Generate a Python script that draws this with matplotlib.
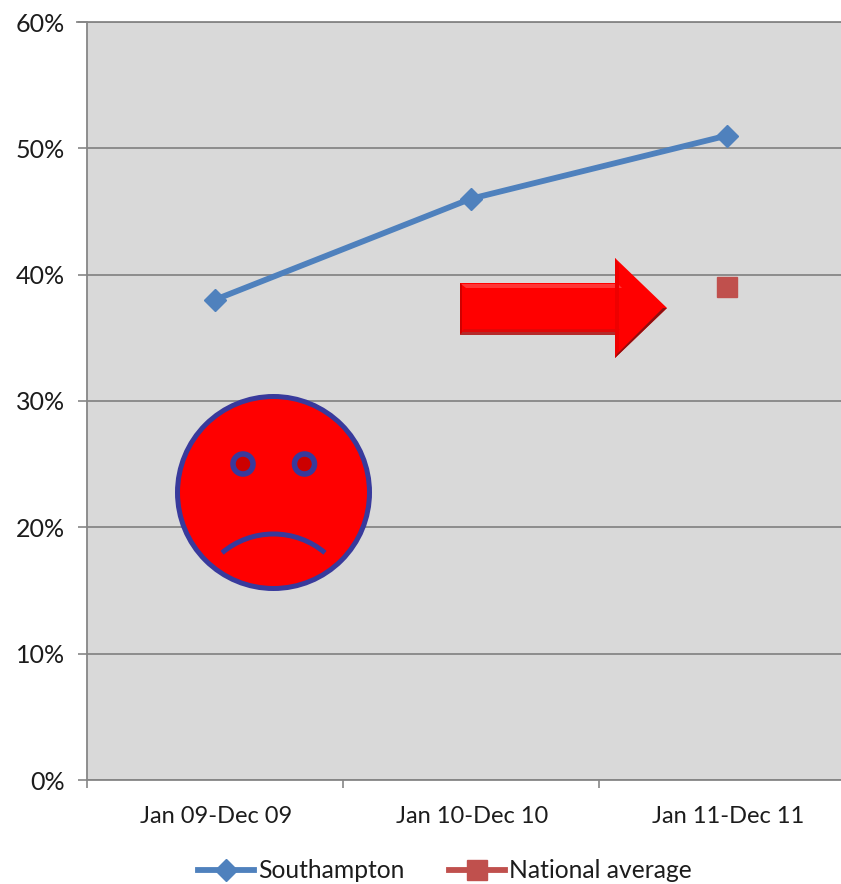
import matplotlib
matplotlib.use("Agg")
import matplotlib.pyplot as plt
from matplotlib.patches import Arc, Circle, Polygon
from matplotlib.ticker import FuncFormatter, MultipleLocator

W, H = 841, 884
FONT = "Lato"
BG = "#d9d9d9"
AXIS_GREY = "#868686"
BLUE = "#4f81bd"
RED = "#c0504d"
NAVY = "#383a9c"
TEXT = "#1c1c1c"

periods = ["Jan 09-Dec 09", "Jan 10-Dec 10", "Jan 11-Dec 11"]
southampton = [38, 46, 51]
national_average = [None, None, 39]


def draw_arrow(ov):
    # flat red block arrow with the bevel edges of the original clip art
    outline = [(460, 283), (615, 283), (615, 258), (667, 308), (615, 358), (615, 334), (460, 334)]
    ov.add_patch(Polygon(outline, closed=True, fc="#ff0000", ec="none", zorder=2))
    ov.add_patch(Polygon([(461, 284), (618, 284), (622, 288), (466, 288)], fc="#ff3535", ec="none", zorder=3))
    ov.add_patch(Polygon([(464, 329), (620, 329), (617, 332), (461, 332)], fc="#e00808", ec="none", zorder=3))
    ov.add_patch(Polygon([(460, 332), (615, 332), (615, 335), (460, 335)], fc="#b52a2a", ec="none", zorder=3))
    ov.add_patch(Polygon([(460, 283), (462, 285), (462, 333), (460, 334)], fc="#d00000", ec="none", zorder=3))
    ov.add_patch(Polygon([(615, 258), (619, 264), (619, 352), (615, 358)], fc="#ee0000", ec="none", zorder=3))
    ov.add_patch(Polygon([(667, 308), (663, 308), (617, 354), (615, 358)], fc="#8c1010", ec="none", zorder=3))


def draw_face(ov):
    ov.add_patch(Circle((273.5, 492.5), 96, fc="#ff0000", ec=NAVY, lw=3.6, zorder=2))
    for eye_x in (243, 304.5):
        ov.add_patch(Circle((eye_x, 464), 10, fc="#cc0000", ec=NAVY, lw=4, zorder=3))
    ov.add_patch(Arc((273.5, 612), 158, 156, theta1=229, theta2=311, color=NAVY, lw=3.6, zorder=3))


def main():
    fig = plt.figure(figsize=(W / 100, H / 100), dpi=100, facecolor="white")
    left, right = 86.5, 841
    top, bottom = 22, 780
    ax = fig.add_axes([left / W, 1 - bottom / H, (right - left) / W, (bottom - top) / H])
    ax.set_facecolor(BG)

    xs = list(range(len(periods)))
    ax.plot(xs, southampton, color=BLUE, lw=4.2, marker="D", ms=11.5, mfc=BLUE, mec=BLUE,
            label="Southampton", zorder=4, clip_on=False)
    ax.plot(xs, national_average, color=RED, lw=4.2, marker="s", ms=15, mfc=RED, mec=RED,
            alpha=0.95, label="National average", zorder=4)

    # one category is 256 px wide, the last band is cut by the picture edge
    ax.set_xlim(-0.5, -0.5 + (right - left) / 256)
    ax.set_ylim(0, 60)
    ax.yaxis.set_major_locator(MultipleLocator(10))
    ax.yaxis.set_major_formatter(FuncFormatter(lambda v, _: f"{v:.0f}%"))
    ax.grid(axis="y", color=AXIS_GREY, lw=1.3)
    ax.set_axisbelow(True)

    ax.set_xticks([-0.5, 0.5, 1.5])
    ax.set_xticklabels([])
    ax.tick_params(axis="x", length=6, width=1.2, color=AXIS_GREY)
    ax.tick_params(axis="y", length=6.5, width=1.2, color=AXIS_GREY, labelsize=18, pad=9)
    for lab in ax.get_yticklabels():
        lab.set_fontfamily(FONT)
        lab.set_color(TEXT)
    for i, period in enumerate(periods):
        ax.annotate(period, xy=(i, 0), xycoords=("data", "axes fraction"), xytext=(1, -26),
                    textcoords="offset points", ha="center", va="center",
                    family=FONT, fontsize=17, color=TEXT)

    for name in ("top", "right"):
        ax.spines[name].set_visible(False)
    for name in ("left", "bottom"):
        ax.spines[name].set_color(AXIS_GREY)
        ax.spines[name].set_linewidth(1.3)
    ax.plot([-0.012, 1], [1, 1], transform=ax.transAxes, color=AXIS_GREY, lw=1.3, clip_on=False, zorder=1)

    handles, labels = ax.get_legend_handles_labels()
    handles[1].set_alpha(1)
    ax_leg = fig.legend(handles, labels, loc="center", bbox_to_anchor=(445 / W, 1 - 871 / H), ncol=2, frameon=False,
                        prop={"family": FONT, "size": 17.7}, handlelength=2.28, handletextpad=0.15,
                        columnspacing=1.83, labelcolor=TEXT, borderpad=0)
    ax_leg.legend_handles[0].set_markersize(11.5)
    ax_leg.legend_handles[1].set_markersize(15)

    # clip art pasted on the chart, placed in picture pixels
    ov = fig.add_axes([0, 0, 1, 1], facecolor="none")
    ov.set_xlim(0, W)
    ov.set_ylim(H, 0)
    ov.set_axis_off()
    draw_arrow(ov)
    draw_face(ov)

    fig.savefig("out.png", dpi=100)


if __name__ == "__main__":
    main()
